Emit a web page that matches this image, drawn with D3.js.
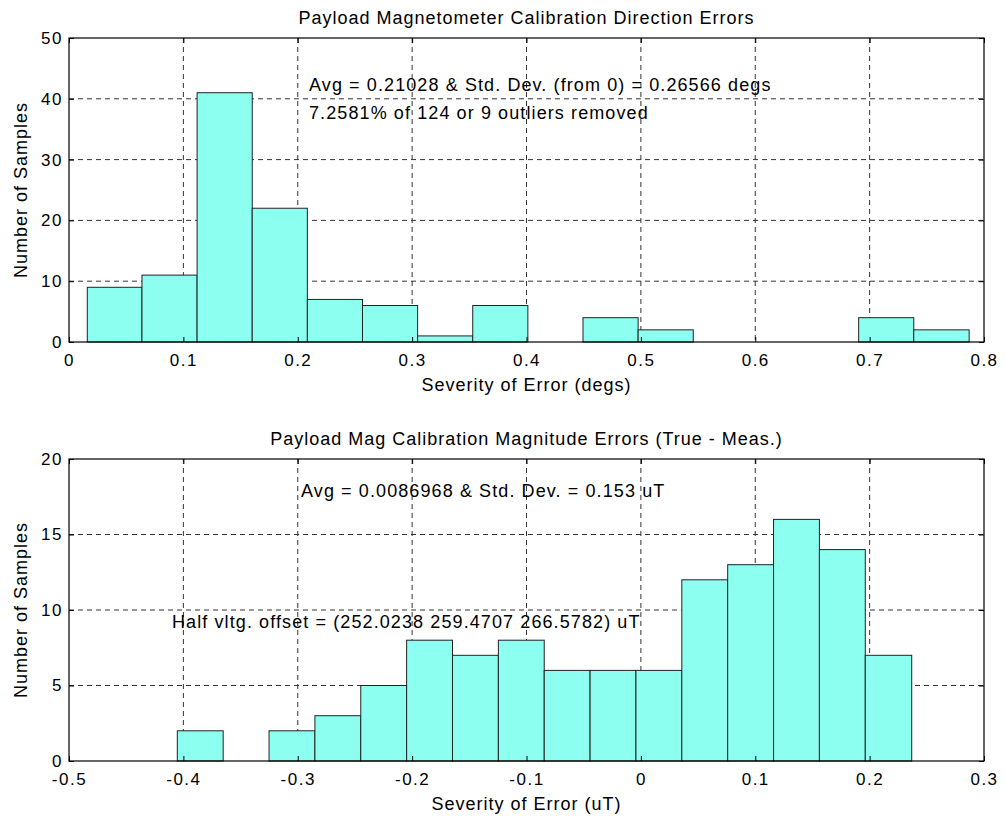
<!DOCTYPE html>
<html>
<head>
<meta charset="utf-8">
<script src="https://cdn.jsdelivr.net/npm/d3@7"></script>
<style>
  body { margin: 0; background: #fff; }
  svg text { font-family: Arial, "Liberation Sans", sans-serif; fill: #000; }
</style>
</head>
<body>
<div id="chart"></div>
<script>
// top histogram: direction errors (degs)
var dirEdges = [0.016, 0.0638, 0.1120, 0.1602, 0.2084, 0.2566, 0.3048, 0.3530,
                0.4012, 0.4494, 0.4976, 0.5458, 0.5940, 0.6422, 0.6904, 0.7386, 0.787];
var dirCounts = [9, 11, 41, 22, 7, 6, 1, 6, 0, 4, 2, 0, 0, 0, 4, 2];
var dirXTicks = [0, 0.1, 0.2, 0.3, 0.4, 0.5, 0.6, 0.7, 0.8];
var dirYTicks = [0, 10, 20, 30, 40, 50];

// bottom histogram: magnitude errors (uT)
var magEdges = [-0.4053, -0.3652, -0.3251, -0.2850, -0.2449, -0.2048, -0.1647, -0.1246,
                -0.0845, -0.0444, -0.0043, 0.0358, 0.0759, 0.1160, 0.1561, 0.1962, 0.2368];
var magCounts = [2, 0, 2, 3, 5, 8, 7, 8, 6, 6, 6, 12, 13, 16, 14, 7];
var magXTicks = [-0.5, -0.4, -0.3, -0.2, -0.1, 0, 0.1, 0.2, 0.3];
var magYTicks = [0, 5, 10, 15, 20];

var width = 1005, height = 820;

var svg = d3.select('#chart')
  .append('svg')
  .attr('width', width)
  .attr('height', height);

var drawHist = function(opt) {
  var left = 69, right = 984;
  var x = d3.scaleLinear().domain(opt.xDomain).range([left, right]);
  var y = d3.scaleLinear().domain(opt.yDomain).range([opt.bottom, opt.top]);
  var g = svg.append('g');

  // grid
  g.selectAll('line.gx')
    .data(opt.xTicks.slice(1, -1))
    .enter().append('line')
    .attr('x1', function(d) { return x(d); })
    .attr('x2', function(d) { return x(d); })
    .attr('y1', opt.top).attr('y2', opt.bottom)
    .attr('stroke', '#333').attr('stroke-width', 1)
    .attr('stroke-dasharray', '5,4');
  g.selectAll('line.gy')
    .data(opt.yTicks.slice(1, -1))
    .enter().append('line')
    .attr('y1', function(d) { return y(d); })
    .attr('y2', function(d) { return y(d); })
    .attr('x1', left).attr('x2', right)
    .attr('stroke', '#333').attr('stroke-width', 1)
    .attr('stroke-dasharray', '5,4');

  // bars
  var bins = opt.counts.map(function(c, i) {
    return { x0: opt.edges[i], x1: opt.edges[i + 1], n: c };
  });
  g.selectAll('rect.bar')
    .data(bins)
    .enter().append('rect')
    .attr('x', function(d) { return x(d.x0); })
    .attr('width', function(d) { return x(d.x1) - x(d.x0); })
    .attr('y', function(d) { return y(d.n); })
    .attr('height', function(d) { return y(0) - y(d.n); })
    .attr('fill', '#8cfff0')
    .attr('stroke', '#222').attr('stroke-width', 1);

  // box
  g.append('rect')
    .attr('x', left).attr('y', opt.top)
    .attr('width', right - left).attr('height', opt.bottom - opt.top)
    .attr('fill', 'none').attr('stroke', '#000').attr('stroke-width', 1.2);

  // axes (plain hyphen for negatives, like the original)
  var xAxis = d3.axisBottom(x).tickValues(opt.xTicks).tickSize(-5).tickPadding(12)
    .tickFormat(function(d) { return String(+d.toFixed(2)); });
  g.append('g').attr('transform', 'translate(0,' + opt.bottom + ')').call(xAxis)
    .call(function(s) { s.select('.domain').remove(); });
  var yAxis = d3.axisLeft(y).tickValues(opt.yTicks).tickSize(-5).tickPadding(6);
  g.append('g').attr('transform', 'translate(' + left + ',0)').call(yAxis)
    .call(function(s) { s.select('.domain').remove(); });
  g.append('g').attr('transform', 'translate(0,' + opt.top + ')')
    .call(d3.axisTop(x).tickValues(opt.xTicks).tickSize(-5).tickFormat(''))
    .call(function(s) { s.select('.domain').remove(); });
  g.append('g').attr('transform', 'translate(' + right + ',0)')
    .call(d3.axisRight(y).tickValues(opt.yTicks).tickSize(-5).tickFormat(''))
    .call(function(s) { s.select('.domain').remove(); });
  g.selectAll('.tick text')
    .attr('font-size', 17).attr('letter-spacing', 1.5)
    .attr('font-family', 'Arial, "Liberation Sans", sans-serif');
  g.selectAll('.tick line').attr('stroke', '#000');

  // titles and labels
  g.append('text')
    .attr('x', (left + right) / 2).attr('y', opt.top - 14)
    .attr('text-anchor', 'middle').attr('font-size', 18).attr('letter-spacing', 1)
    .text(opt.title);
  g.append('text')
    .attr('x', (left + right) / 2).attr('y', opt.bottom + 49)
    .attr('text-anchor', 'middle').attr('font-size', 18).attr('letter-spacing', 1)
    .text(opt.xLabel);
  g.append('text')
    .attr('transform', 'translate(27,' + ((opt.top + opt.bottom) / 2) + ') rotate(-90)')
    .attr('text-anchor', 'middle').attr('font-size', 18).attr('letter-spacing', 1)
    .text('Number of Samples');

  opt.notes.forEach(function(n) {
    g.append('text')
      .attr('x', n.x).attr('y', n.y)
      .attr('font-size', 18).attr('letter-spacing', 1.1)
      .text(n.text);
  });
};

drawHist({
  top: 38, bottom: 342,
  xDomain: [0, 0.8], yDomain: [0, 50],
  xTicks: dirXTicks, yTicks: dirYTicks,
  edges: dirEdges, counts: dirCounts,
  title: 'Payload Magnetometer Calibration Direction Errors',
  xLabel: 'Severity of Error (degs)',
  notes: [
    { x: 309, y: 91, text: 'Avg = 0.21028 & Std. Dev. (from 0) = 0.26566 degs' },
    { x: 309, y: 119, text: '7.2581% of 124 or 9 outliers removed' }
  ]
});

drawHist({
  top: 459, bottom: 761,
  xDomain: [-0.5, 0.3], yDomain: [0, 20],
  xTicks: magXTicks, yTicks: magYTicks,
  edges: magEdges, counts: magCounts,
  title: 'Payload Mag Calibration Magnitude Errors (True - Meas.)',
  xLabel: 'Severity of Error (uT)',
  notes: [
    { x: 301, y: 497, text: 'Avg = 0.0086968 & Std. Dev. = 0.153 uT' },
    { x: 172, y: 628, text: 'Half vltg. offset = (252.0238 259.4707 266.5782) uT' }
  ]
});
</script>
</body>
</html>
